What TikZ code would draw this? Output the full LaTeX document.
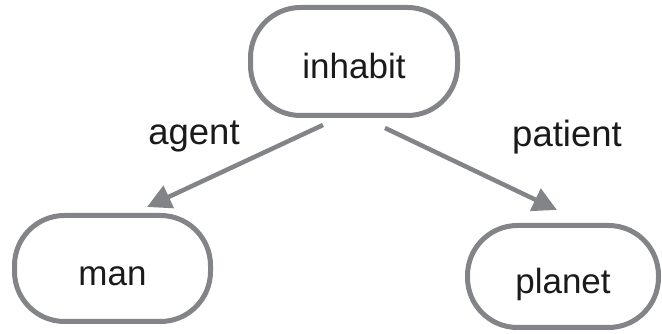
\documentclass[tikz,border=0pt]{standalone}
\usepackage{fontspec}
\setmainfont{Liberation Sans}
\usetikzlibrary{arrows.meta}
\definecolor{edgegray}{HTML}{828488}
\definecolor{txt}{HTML}{1A1A1A}
\begin{document}
\begin{tikzpicture}[x=1pt,y=1pt,
  concept/.style={draw=edgegray, line width=5pt, rounded corners=50pt, fill=white,
    text=txt, font=\fontsize{35}{40}\selectfont, text height=34pt, text depth=0pt,
    inner sep=0pt, outer sep=0pt},
  rolelabel/.style={text=txt, font=\fontsize{36.5}{42}\selectfont, anchor=base, inner sep=0pt},
  relarrow/.style={draw=edgegray, line width=4.5pt, -{Triangle[length=24pt,width=24pt]}}]
\useasboundingbox (0,0) rectangle (662,334);
\node[concept, minimum width=207pt, minimum height=108pt] (inhabit) at (354,272.5) {inhabit};
\node[concept, minimum width=196pt, minimum height=106pt] (man) at (112.5,65.5) {man};
\node[concept, minimum width=191pt, minimum height=102pt] (planet) at (563,57.5) {planet};
\node[rolelabel] (agent) at (194,189) {agent};
\node[rolelabel] (patient) at (567,187) {patient};
\draw[relarrow] ([xshift=-31pt,yshift=-9.5pt]inhabit.south) -- ([xshift=34.5pt,yshift=8.5pt]man.north);
\draw[relarrow] ([xshift=31pt,yshift=-12.5pt]inhabit.south) -- ([xshift=-6pt,yshift=15.5pt]planet.north);
\end{tikzpicture}
\end{document}
